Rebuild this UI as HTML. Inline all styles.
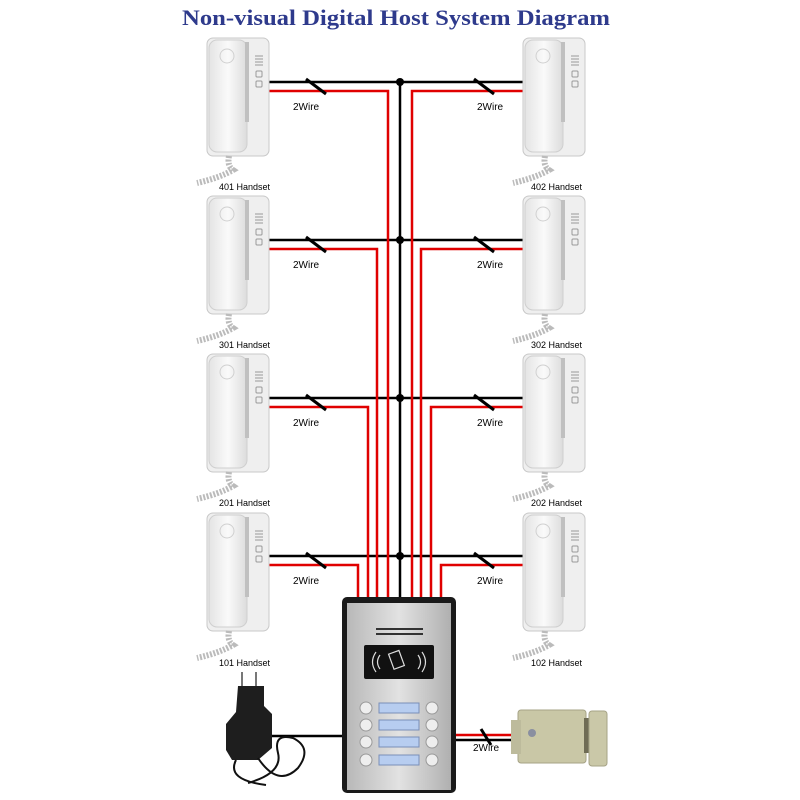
<!DOCTYPE html>
<html><head><meta charset="utf-8"><style>
html,body{margin:0;padding:0;background:#fff}
svg{display:block}
text{font-family:"Liberation Sans",sans-serif}
</style></head><body>
<svg width="800" height="800" viewBox="0 0 800 800" xmlns="http://www.w3.org/2000/svg">
<defs>
<linearGradient id="hs" x1="0" x2="1"><stop offset="0" stop-color="#e4e4e4"/><stop offset="0.5" stop-color="#fafafa"/><stop offset="1" stop-color="#dcdcdc"/></linearGradient>
<linearGradient id="steel" x1="0" x2="1"><stop offset="0" stop-color="#b8b8b8"/><stop offset="0.5" stop-color="#e2e2e2"/><stop offset="1" stop-color="#b0b0b0"/></linearGradient>
<g id="phone">
  <rect x="2" y="0" width="62" height="118" rx="6" fill="#efefef" stroke="#c8c8c8"/>
  <rect x="4" y="2" width="38" height="112" rx="8" fill="url(#hs)" stroke="#cfcfcf"/>
  <circle cx="22" cy="18" r="7" fill="none" stroke="#d0d0d0"/>
  <rect x="40" y="4" width="4" height="80" fill="#c0c0c0"/>
  <g stroke="#999" stroke-width="1"><line x1="50" y1="18" x2="58" y2="18"/><line x1="50" y1="21" x2="58" y2="21"/><line x1="50" y1="24" x2="58" y2="24"/><line x1="50" y1="27" x2="58" y2="27"/></g>
  <rect x="51" y="33" width="6" height="6" rx="1" fill="none" stroke="#999"/>
  <rect x="51" y="43" width="6" height="6" rx="1" fill="none" stroke="#999"/>
  <path d="M24 118 Q22 128 28 132 Q14 140 -8 145" fill="none" stroke="#bbb" stroke-width="6" stroke-dasharray="2 1.5"/>
</g>
</defs>
<text x="182" y="25" textLength="428" lengthAdjust="spacingAndGlyphs" font-weight="bold" font-size="22" fill="#2e3a8c" style="font-family:'Liberation Serif',serif">Non-visual Digital Host System Diagram</text>

<g fill="none" stroke-width="2.5">
  <line x1="400" y1="82" x2="400" y2="598" stroke="#000"/>
  <g stroke="#000">
    <line x1="268" y1="82" x2="532" y2="82"/>
    <line x1="268" y1="240" x2="532" y2="240"/>
    <line x1="268" y1="398" x2="532" y2="398"/>
    <line x1="268" y1="556" x2="532" y2="556"/>
  </g>
  <g stroke="#e00000">
    <polyline points="268,91 388,91 388,598"/>
    <polyline points="268,249 377,249 377,598"/>
    <polyline points="268,407 368,407 368,598"/>
    <polyline points="268,565 358,565 358,598"/>
    <polyline points="532,91 412,91 412,598"/>
    <polyline points="532,249 421,249 421,598"/>
    <polyline points="532,407 431,407 431,598"/>
    <polyline points="532,565 441,565 441,598"/>
  </g>
  <line x1="265" y1="736" x2="343" y2="736" stroke="#000"/>
  <line x1="456" y1="735" x2="515" y2="735" stroke="#e00000"/>
  <line x1="456" y1="740" x2="515" y2="740" stroke="#000"/>
</g>
<g fill="#000">
  <circle cx="400" cy="82" r="4"/><circle cx="400" cy="240" r="4"/><circle cx="400" cy="398" r="4"/><circle cx="400" cy="556" r="4"/>
</g>
<g stroke="#000" stroke-width="3">
  <line x1="306" y1="79" x2="326" y2="94"/><line x1="474" y1="79" x2="494" y2="94"/>
  <line x1="306" y1="237" x2="326" y2="252"/><line x1="474" y1="237" x2="494" y2="252"/>
  <line x1="306" y1="395" x2="326" y2="410"/><line x1="474" y1="395" x2="494" y2="410"/>
  <line x1="306" y1="553" x2="326" y2="568"/><line x1="474" y1="553" x2="494" y2="568"/>
  <line x1="481" y1="729" x2="491" y2="745"/>
</g>
<g font-size="10" fill="#000">
  <text x="293" y="110">2Wire</text><text x="477" y="110">2Wire</text>
  <text x="293" y="268">2Wire</text><text x="477" y="268">2Wire</text>
  <text x="293" y="426">2Wire</text><text x="477" y="426">2Wire</text>
  <text x="293" y="584">2Wire</text><text x="477" y="584">2Wire</text>
  <text x="473" y="751">2Wire</text>
</g>

<use href="#phone" x="205" y="38"/><use href="#phone" x="521" y="38"/>
<use href="#phone" x="205" y="196"/><use href="#phone" x="521" y="196"/>
<use href="#phone" x="205" y="354"/><use href="#phone" x="521" y="354"/>
<use href="#phone" x="205" y="513"/><use href="#phone" x="521" y="513"/>
<g font-size="9" fill="#000">
  <text x="219" y="190">401 Handset</text><text x="531" y="190">402 Handset</text>
  <text x="219" y="348">301 Handset</text><text x="531" y="348">302 Handset</text>
  <text x="219" y="506">201 Handset</text><text x="531" y="506">202 Handset</text>
  <text x="219" y="666">101 Handset</text><text x="531" y="666">102 Handset</text>
</g>

<rect x="342" y="597" width="114" height="196" rx="5" fill="#1a1a1a"/>
<rect x="347" y="603" width="104" height="187" fill="url(#steel)"/>
<g fill="#333">
  <rect x="376" y="628" width="47" height="2"/><rect x="376" y="633" width="47" height="2"/>
</g>
<rect x="364" y="645" width="70" height="34" rx="2" fill="#111"/>
<g stroke="#ddd" fill="none" stroke-width="1.2">
  <path d="M380 655 q-5 7 0 14"/><path d="M376 652 q-7 10 0 20"/>
  <path d="M418 655 q5 7 0 14"/><path d="M422 652 q7 10 0 20"/>
  <rect x="391" y="652" width="11" height="16" transform="rotate(-20 396 660)"/>
</g>
<g fill="#b7cdf0" stroke="#7a8fb8">
  <rect x="379" y="703" width="40" height="10"/><rect x="379" y="720" width="40" height="10"/>
  <rect x="379" y="737" width="40" height="10"/><rect x="379" y="755" width="40" height="10"/>
</g>
<g fill="#eee" stroke="#999">
  <circle cx="366" cy="708" r="6"/><circle cx="366" cy="725" r="6"/><circle cx="366" cy="742" r="6"/><circle cx="366" cy="760" r="6"/>
  <circle cx="432" cy="708" r="6"/><circle cx="432" cy="725" r="6"/><circle cx="432" cy="742" r="6"/><circle cx="432" cy="760" r="6"/>
</g>

<rect x="518" y="710" width="68" height="53" rx="3" fill="#c9c7a6" stroke="#a6a386"/>
<rect x="511" y="720" width="10" height="34" fill="#bdbb9c"/>
<rect x="584" y="718" width="8" height="35" fill="#6f6c55"/>
<rect x="589" y="711" width="18" height="55" rx="3" fill="#cac8a8" stroke="#a6a386"/>
<circle cx="532" cy="733" r="4" fill="#8a8fa0"/>

<rect x="241" y="672" width="2" height="16" fill="#777"/><rect x="255" y="672" width="2" height="16" fill="#777"/>
<path d="M238 686 h26 v20 l8 8 v34 l-14 12 h-26 l-6 -10 v-26 l10 -12z" fill="#1e1e1e"/>
<path d="M258 758 q20 30 40 10 q15 -20 -5 -30 q-20 -5 -15 15 q5 20 -30 30" fill="none" stroke="#111" stroke-width="2"/>
<path d="M236 760 q-10 20 30 25" fill="none" stroke="#111" stroke-width="2"/>
</svg>
</body></html>
